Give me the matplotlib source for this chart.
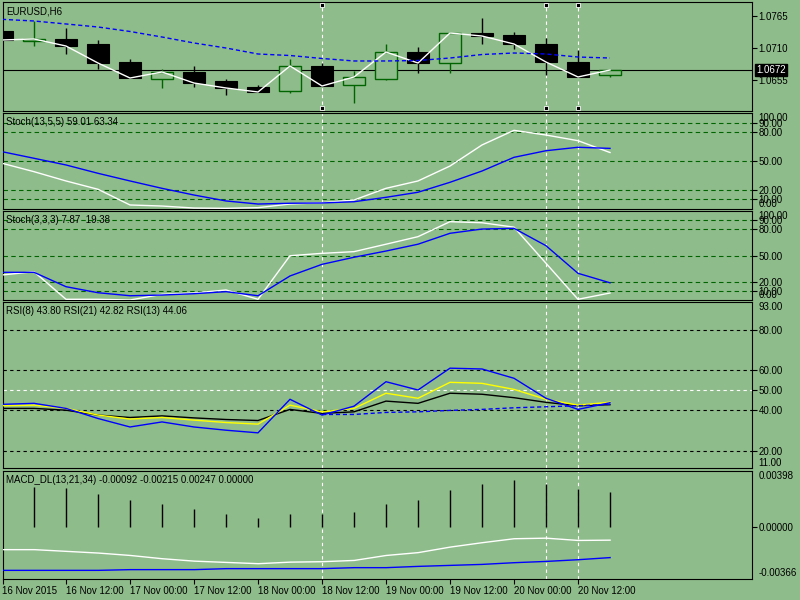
import numpy as np
import matplotlib
matplotlib.use("Agg")
import matplotlib.pyplot as plt
from matplotlib.transforms import blended_transform_factory as blend

plt.rcParams['font.family'] = ['Liberation Sans', 'DejaVu Sans']

BG = '#8fbc8b'
GREEN = '#006400'

# --- EURUSD H6 bars, 16 Nov 2015 00:00 .. 20 Nov 2015 18:00 ---
opens = [1.07392, 1.07220, 1.07255, 1.07169, 1.06859, 1.06567, 1.06688, 1.06533, 1.06430, 1.06361,
         1.06791, 1.06464, 1.06567, 1.07031, 1.06842, 1.07358, 1.07323, 1.07169, 1.06859, 1.06636]
highs = [1.07392, 1.07564, 1.07444, 1.07238, 1.06911, 1.06739, 1.06791, 1.06567, 1.06464, 1.06911,
         1.06842, 1.06705, 1.07169, 1.07117, 1.07375, 1.07616, 1.07375, 1.07272, 1.07066, 1.06722]
lows = [1.07238, 1.07134, 1.06997, 1.06739, 1.06584, 1.06413, 1.06430, 1.06292, 1.06344, 1.06327,
        1.06447, 1.06155, 1.06550, 1.06670, 1.06670, 1.07169, 1.07083, 1.06636, 1.06602, 1.06602]
closes = [1.07238, 1.07255, 1.07134, 1.06842, 1.06584, 1.06688, 1.06498, 1.06413, 1.06344, 1.06791,
          1.06447, 1.06602, 1.07031, 1.06842, 1.07358, 1.07306, 1.07169, 1.06859, 1.06602, 1.06722]
ma_slow = [1.07593, 1.07564, 1.07513, 1.07461, 1.07384, 1.07289, 1.07186, 1.07100, 1.06997, 1.06971,
           1.06920, 1.06877, 1.06877, 1.06885, 1.06928, 1.06988, 1.07014, 1.06997, 1.06945, 1.06928]
last_price = 1.0672
price_ticks = [1.0765, 1.0710, 1.0655]

time_labels = ['16 Nov 2015', '16 Nov 12:00', '17 Nov 00:00', '17 Nov 12:00', '18 Nov 00:00',
               '18 Nov 12:00', '19 Nov 00:00', '19 Nov 12:00', '20 Nov 00:00', '20 Nov 12:00']
marked_bars = [10, 17, 18]

# Stoch(13,5,5)
st1_main = [47.8, 39.0, 29.3, 20.6, 4.2, 3.1, 1.0, 0.7, 1.4, 5.2,
            6.6, 9.4, 21.6, 29.3, 44.9, 66.9, 82.2, 77.3, 71.4, 59.01]
st1_sig = [59.9, 53.0, 46.0, 37.3, 29.3, 21.6, 14.6, 8.4, 5.2, 6.0,
           6.3, 7.6, 12.2, 17.5, 27.9, 39.7, 54.0, 60.9, 64.5, 63.34]
# Stoch(3,3,3)
st2_main = [28.2, 31.9, 0.8, 0.8, 0.0, 6.4, 7.9, 11.3, 0.8, 49.9,
            52.6, 54.5, 62.9, 71.4, 88.3, 87.1, 82.1, 41.4, 0.8, 7.87]
st2_sig = [31.2, 31.2, 15.0, 8.2, 4.8, 5.6, 7.1, 9.4, 4.8, 27.1,
           40.2, 48.2, 55.2, 62.9, 75.2, 80.0, 80.8, 61.2, 30.1, 19.38]
stoch_levels = [90, 80, 50, 20, 10]

# RSI
rsi8 = [43.0, 43.5, 41.0, 36.0, 31.8, 34.3, 31.8, 30.2, 28.9, 45.5,
        37.7, 42.1, 54.2, 50.1, 60.9, 60.5, 55.9, 46.0, 40.5, 43.80]
rsi13 = [42.3, 42.6, 41.0, 37.7, 35.7, 36.5, 35.2, 34.0, 33.2, 42.6,
         39.3, 41.0, 48.5, 46.0, 53.9, 53.4, 50.4, 45.5, 42.6, 44.06]
rsi21 = [41.0, 41.0, 40.1, 37.7, 36.5, 37.3, 36.3, 35.5, 35.0, 40.5,
         38.5, 39.3, 44.6, 43.5, 48.5, 48.0, 46.3, 44.0, 42.3, 42.82]
rsi_ma = [np.nan] * 10 + [38.0, 38.0, 39.0, 39.3, 40.0, 40.5, 41.3, 41.8, 42.3, 43.0]
rsi_levels = [80, 60, 40, 20]

# MACD_DL(13,21,34)
macd_hist = [np.nan, 0.00282, 0.00278, 0.00235, 0.00188, 0.00160, 0.00125, 0.00090, 0.00063, 0.00094,
             0.00090, 0.00104, 0.00160, 0.00188, 0.00259, 0.00306, 0.00329, 0.00306, 0.00266, 0.00247]
macd_main = [-0.00159, -0.00159, -0.00171, -0.00183, -0.00200, -0.00223, -0.00240, -0.00249, -0.00258, -0.00247,
             -0.00244, -0.00235, -0.00200, -0.00180, -0.00141, -0.00110, -0.00082, -0.00078, -0.00094, -0.00092]
macd_sig = [-0.00305, -0.00305, -0.00305, -0.00305, -0.00300, -0.00300, -0.00300, -0.00293, -0.00293, -0.00293,
            -0.00293, -0.00286, -0.00286, -0.00277, -0.00270, -0.00263, -0.00251, -0.00242, -0.00230, -0.00215]

W, H = 800.0, 600.0
X0, X1 = 2.5, 752.3
fig = plt.figure(figsize=(8, 6), dpi=100, facecolor=BG)


def panel(top, bottom):
    ax = fig.add_axes([X0 / W, 1 - bottom / H, (X1 - X0) / W, (bottom - top) / H])
    ax.set_facecolor(BG)
    for s in ax.spines.values():
        s.set_color('black')
        s.set_linewidth(0.8)
    ax.set_xlim(0.0156, 0.0156 + (X1 - X0) / 32.0)
    ax.yaxis.tick_right()
    ax.tick_params(axis='y', direction='out', length=3.6, width=0.8, pad=1, labelsize=7, colors='black')
    ax.tick_params(axis='x', bottom=False, labelbottom=False)
    ax.hpx = bottom - top
    return ax


def edge_labels(ax, top_txt, bot_txt):
    tr = ax.transAxes
    xo = 1 + 6.4 / (X1 - X0)
    ax.text(xo, 1 - 5.0 / ax.hpx, top_txt, transform=tr, fontsize=7, va='center', ha='left', clip_on=False)
    ax.text(xo, 5.5 / ax.hpx, bot_txt, transform=tr, fontsize=7, va='center', ha='left', clip_on=False)


def title(ax, txt):
    ax.text(4 / (X1 - X0), 1 - 9.0 / ax.hpx, txt, transform=ax.transAxes, fontsize=7, va='center', ha='left')


def vmarks(ax):
    for b in marked_bars:
        ax.axvline(b, color='white', lw=0.8, ls=(0, (3, 3)), zorder=1)


idx = np.arange(len(closes))
o, h, l, c = map(np.array, (opens, highs, lows, closes))
up = c >= o

# --- price panel ---
ax0 = panel(2.3, 111)
ax0.set_ylim(1.060172, 1.078855)
vmarks(ax0)
ax0.axhline(last_price, color='black', lw=0.8, zorder=2)
ax0.vlines(idx[~up], l[~up], h[~up], color='black', lw=1, zorder=3)
ax0.vlines(idx[up], l[up], h[up], color=GREEN, lw=1, zorder=3)
ax0.bar(idx[~up], np.abs(c - o)[~up], 0.69, bottom=np.minimum(o, c)[~up],
        color='black', edgecolor='black', lw=0.8, zorder=4)
ax0.bar(idx[up], np.abs(c - o)[up], 0.69, bottom=np.minimum(o, c)[up],
        facecolor=BG, edgecolor=GREEN, lw=1, zorder=4)
ax0.plot(idx, closes, color='white', lw=1, zorder=5)
ax0.plot(idx, ma_slow, color='#0000ff', lw=1, ls=(0, (3, 2)), zorder=5)
tr = blend(ax0.transData, ax0.transAxes)
for b in marked_bars:
    ax0.plot([b, b], [1 - 3.0 / ax0.hpx, 3.5 / ax0.hpx], 's', ms=3.5, mfc='black', mec='white',
             mew=0.6, transform=tr, clip_on=False, zorder=6)
ax0.set_yticks(price_ticks)
ax0.set_yticklabels(['%.4f' % v for v in price_ticks])
ax0.text(1 + 4 / (X1 - X0), last_price, '%.4f' % last_price, color='white', fontsize=7,
         va='center', ha='left', transform=blend(ax0.transAxes, ax0.transData), clip_on=False,
         bbox=dict(facecolor='black', edgecolor='black', pad=0.8))
title(ax0, 'EURUSD,H6')

# --- Stoch(13,5,5) ---
ax1 = panel(113.3, 209)
ax1.set_ylim(0, 100)
for lv in stoch_levels:
    ax1.axhline(lv, color=GREEN, lw=0.8, ls=(0, (4, 3)), zorder=1)
vmarks(ax1)
ax1.plot(idx, st1_main, color='white', lw=1, zorder=3)
ax1.plot(idx, st1_sig, color='#0000ff', lw=1, zorder=3)
ax1.set_yticks(stoch_levels)
ax1.set_yticklabels(['%.2f' % v for v in stoch_levels])
edge_labels(ax1, '100.00', '0.00')
title(ax1, 'Stoch(13,5,5) 59.01 63.34')

# --- Stoch(3,3,3) ---
ax2 = panel(211.3, 300)
ax2.set_ylim(0, 100)
for lv in stoch_levels:
    ax2.axhline(lv, color=GREEN, lw=0.8, ls=(0, (4, 3)), zorder=1)
vmarks(ax2)
ax2.plot(idx, st2_main, color='white', lw=1, zorder=3)
ax2.plot(idx, st2_sig, color='#0000ff', lw=1, zorder=3)
ax2.set_yticks(stoch_levels)
ax2.set_yticklabels(['%.2f' % v for v in stoch_levels])
edge_labels(ax2, '100.00', '0.00')
title(ax2, 'Stoch(3,3,3) 7.87  19.38')

# --- RSI ---
ax3 = panel(302.3, 468)
ax3.set_ylim(11.5, 93.5)
for lv in rsi_levels:
    ax3.axhline(lv, color='black', lw=0.8, ls=(0, (3, 3)), zorder=1)
ax3.axhline(50, color='white', lw=0.8, ls=(0, (3, 3)), zorder=1)
vmarks(ax3)
ax3.plot(idx, rsi21, color='black', lw=1, zorder=3)
ax3.plot(idx, rsi13, color='#ffff00', lw=1, zorder=3)
ax3.plot(idx, rsi8, color='#0000ff', lw=1, zorder=3)
ax3.plot(idx, rsi_ma, color='#0000ff', lw=1, ls=(0, (3, 2)), zorder=3)
ax3.set_yticks([80, 60, 50, 40, 20])
ax3.set_yticklabels(['80.00', '60.00', '50.00', '40.00', '20.00'])
edge_labels(ax3, '93.00', '11.00')
title(ax3, 'RSI(8) 43.80 RSI(21) 42.82 RSI(13) 44.06')

# --- MACD ---
ax4 = panel(470.7, 579)
ax4.set_ylim(-0.00366, 0.00398)
vmarks(ax4)
hist = np.array(macd_hist)
ax4.vlines(idx, 0, hist, color='black', lw=1, zorder=3)
ax4.plot(idx, macd_main, color='white', lw=1, zorder=3)
ax4.plot(idx, macd_sig, color='#0000ff', lw=1, zorder=3)
ax4.set_yticks([0.0])
ax4.set_yticklabels(['0.00000'])
edge_labels(ax4, '0.00398', '-0.00366')
title(ax4, 'MACD_DL(13,21,34) -0.00092 -0.00215 0.00247 0.00000')

ax4.tick_params(axis='x', bottom=True, labelbottom=True, direction='out', length=3.6,
                width=0.8, pad=1.5, labelsize=7)
ax4.set_xticks(idx[::2])
ax4.set_xticklabels(time_labels)
for lbl in ax4.get_xticklabels():
    lbl.set_horizontalalignment('left')

fig.savefig('out.png', dpi=100, facecolor=BG)
